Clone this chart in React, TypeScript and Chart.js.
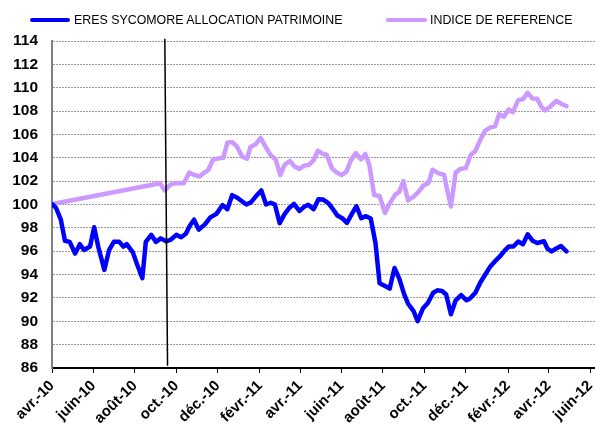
import React, { useEffect, useRef } from "react";
import { Chart, registerables } from "chart.js";

Chart.register(...registerables);

// ---------- data ----------
const seriesNames = ["ERES SYCOMORE ALLOCATION PATRIMOINE", "INDICE DE REFERENCE"];
const seriesColors = ["#0000FF", "#CC99FF"];

// x tick labels, every 2 months starting avr.-10
const tickLabels = [
  "avr.-10", "juin-10", "août-10", "oct.-10", "déc.-10", "févr.-11", "avr.-11",
  "juin-11", "août-11", "oct.-11", "déc.-11", "févr.-12", "avr.-12", "juin-12",
];
const tickMonthOffsets = [0, 2, 4, 6, 8, 10, 12, 14, 16, 18, 20, 22, 24, 26];

// days since 2010-04-01
const fundDays = [
  1, 6, 13, 19, 26, 34, 41, 47, 56, 62, 68, 77, 84, 91, 99, 105, 110, 119, 125, 133,
  138, 146, 153, 160, 168, 175, 183, 190, 197, 203, 209, 216, 225, 233, 242, 251, 258,
  265, 272, 279, 286, 293, 300, 308, 315, 322, 328, 335, 342, 349, 356, 364, 371, 377,
  385, 392, 399, 407, 414, 420, 427, 434, 441, 448, 455, 462, 469, 476, 482, 490, 497,
  504, 511, 518, 524, 532, 538, 546, 553, 561, 567, 574, 580, 587, 594, 602, 610, 615,
  623, 630, 638, 645, 652, 659, 666, 672, 679, 686, 693, 700, 707, 714, 724, 729, 735,
  742, 749, 757,
];
const fundValues = [
  100.0, 99.7, 98.7, 96.9, 96.8, 95.8, 96.6, 96.1, 96.4, 98.05, 96.4, 94.4, 96.1, 96.8,
  96.8, 96.4, 96.6, 95.9, 94.9, 93.7, 96.8, 97.4, 96.8, 97.1, 96.85, 97.0, 97.4, 97.2,
  97.5, 98.2, 98.7, 97.85, 98.3, 98.9, 99.2, 99.95, 99.6, 100.8, 100.6, 100.3, 100.0,
  100.2, 100.7, 101.2, 100.0, 100.15, 100.0, 98.4, 99.15, 99.7, 100.05, 99.45, 99.8,
  99.97, 99.6, 100.45, 100.42, 100.1, 99.55, 99.05, 98.83, 98.42, 99.17, 99.85, 98.82,
  99.0, 98.8, 96.7, 93.25, 93.02, 92.8, 94.57, 93.65, 92.35, 91.5, 90.87, 90.02, 91.12,
  91.57, 92.45, 92.65, 92.6, 92.3, 90.6, 91.8, 92.25, 91.8, 91.95, 92.45, 93.3, 94.05,
  94.7, 95.15, 95.55, 96.05, 96.4, 96.4, 96.83, 96.6, 97.45, 96.9, 96.7, 96.85, 96.22,
  95.98, 96.23, 96.44, 95.98,
];

const refDays = [
  1, 159, 166, 173, 180, 187, 194, 202, 209, 217, 224, 230, 237, 245, 252, 258, 265, 272,
  280, 287, 292, 300, 307, 315, 322, 329, 336, 342, 350, 357, 364, 372, 378, 385, 391,
  398, 404, 412, 419, 426, 433, 440, 447, 455, 461, 467, 474, 482, 490, 497, 505, 511,
  517, 524, 532, 539, 546, 554, 560, 568, 577, 581, 587, 594, 601, 609, 616, 623, 630,
  637, 645, 652, 658, 665, 672, 678, 686, 693, 700, 707, 714, 720, 725, 733, 742, 750,
  757,
];
const refValues = [
  100.05, 101.82, 101.2, 101.65, 101.82, 101.85, 101.82, 102.73, 102.53, 102.4, 102.73,
  102.95, 103.85, 103.95, 104.0, 105.28, 105.35, 104.97, 104.1, 103.92, 104.92, 105.17,
  105.7, 104.87, 104.2, 103.87, 102.52, 103.38, 103.73, 103.24, 103.05, 103.35, 103.38,
  103.8, 104.6, 104.35, 104.27, 103.1, 102.73, 102.52, 102.8, 103.8, 104.4, 103.86,
  104.33, 103.38, 100.81, 100.73, 99.27, 100.1, 100.85, 101.08, 102.0, 100.35, 100.68,
  101.06, 101.6, 101.85, 102.98, 102.69, 102.53, 101.39, 99.83, 102.73, 103.05, 103.13,
  104.24, 104.59, 105.5, 106.3, 106.6, 106.69, 107.74, 107.52, 108.14, 107.9, 108.94,
  109.02, 109.56, 109.08, 109.05, 108.37, 108.05, 108.37, 108.87, 108.61, 108.43,
];

// vertical marker line (days, values)
const markerDays = [166, 170];
const markerValues = [114.2, 86.2];

const yMin = 86;
const yMax = 114;
const yStep = 2;
const xMaxDays = 799;

// ---------- helpers ----------
const DAY = 86400000;
const tickDays = tickMonthOffsets.map((m) =>
  Math.round((Date.UTC(2010, 3 + m, 1) - Date.UTC(2010, 3, 1)) / DAY)
);
const toPoints = (xs: number[], ys: number[]) => xs.map((x, i) => ({ x, y: ys[i] }));

const FONT = "'Liberation Sans', Arial, Helvetica, sans-serif";

export default function App() {
  const canvasRef = useRef<HTMLCanvasElement | null>(null);

  useEffect(() => {
    const canvas = canvasRef.current;
    if (!canvas) return;
    const chart = new Chart(canvas, {
      type: "line",
      data: {
        datasets: [
          {
            label: "marker",
            data: toPoints(markerDays, markerValues),
            borderColor: "#000000",
            borderWidth: 1.5,
            pointRadius: 0,
            tension: 0,
            clip: false as any,
          },
          {
            label: seriesNames[0],
            data: toPoints(fundDays, fundValues),
            borderColor: seriesColors[0],
            backgroundColor: seriesColors[0],
            borderWidth: 4.5,
            pointRadius: 0,
            tension: 0,
            borderJoinStyle: "round",
            borderCapStyle: "round",
          },
          {
            label: seriesNames[1],
            data: toPoints(refDays, refValues),
            borderColor: seriesColors[1],
            backgroundColor: seriesColors[1],
            borderWidth: 4.5,
            pointRadius: 0,
            tension: 0,
            borderJoinStyle: "round",
            borderCapStyle: "round",
          },
        ],
      },
      options: {
        responsive: false,
        animation: false,
        devicePixelRatio: 1,
        events: [],
        layout: { padding: { top: 41, right: 0, bottom: 0, left: 0 } },
        plugins: {
          legend: { display: false },
          tooltip: { enabled: false },
        },
        scales: {
          x: {
            type: "linear",
            min: 0,
            max: xMaxDays,
            afterBuildTicks: (scale: any) => {
              scale.ticks = tickDays.map((v) => ({ value: v }));
            },
            afterFit: (scale: any) => {
              scale.height = 62;
              scale.paddingLeft = 0;
              scale.paddingRight = 0;
            },
            ticks: {
              autoSkip: false,
              minRotation: 45,
              maxRotation: 45,
              padding: 4,
              color: "#000000",
              font: { family: FONT, size: 15, weight: "bold" },
              callback: (_v: any, i: number) => tickLabels[i],
            },
            grid: {
              display: true,
              drawOnChartArea: false,
              drawTicks: true,
              tickLength: 5,
              color: "#000000",
              lineWidth: 1,
            },
            border: { display: true, color: "#000000", width: 2 },
          },
          y: {
            type: "linear",
            min: yMin,
            max: yMax,
            afterFit: (scale: any) => {
              scale.width = 52;
            },
            ticks: {
              stepSize: yStep,
              padding: 14,
              color: "#000000",
              font: { family: FONT, size: 15.5, weight: "bold" },
            },
            grid: {
              color: "#9a9a9a",
              lineWidth: 1,
              drawTicks: false,
            },
            border: { display: true, color: "#808080", width: 2, dash: [2, 1] },
          },
        },
      },
    });
    return () => chart.destroy();
  }, []);

  const legendText: React.CSSProperties = {
    position: "absolute",
    top: 13,
    fontFamily: FONT,
    fontSize: 12.4,
    lineHeight: "14px",
    color: "#000",
    whiteSpace: "nowrap",
  };

  return (
    <div
      style={{
        position: "fixed",
        left: 0,
        top: 0,
        width: 595,
        height: 430,
        background: "#ffffff",
        overflow: "hidden",
      }}
    >
      <canvas ref={canvasRef} width={595} height={430} style={{ position: "absolute", left: 0, top: 0 }} />
      <div style={{ position: "absolute", left: 30, top: 18, width: 40, height: 4, background: seriesColors[0], borderRadius: 2 }} />
      <span style={{ ...legendText, left: 74 }}>{seriesNames[0]}</span>
      <div style={{ position: "absolute", left: 386, top: 18, width: 41, height: 4, background: seriesColors[1], borderRadius: 2 }} />
      <span style={{ ...legendText, left: 430 }}>{seriesNames[1]}</span>
    </div>
  );
}
